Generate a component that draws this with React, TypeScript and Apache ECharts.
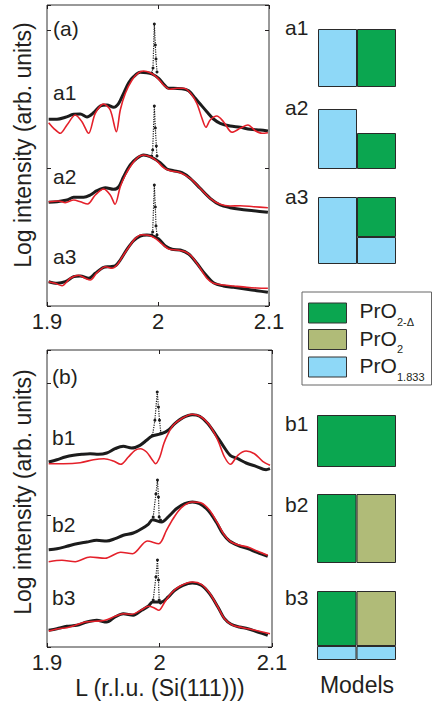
import React, { useEffect, useRef } from "react";
import * as echarts from "echarts";

const FONT = '"Liberation Sans", Arial, Helvetica, sans-serif';
const INK = "#231f20";
const BLACK = "#1c1c1c";
const RED = "#e4202a";
const GREEN = "#0ba650";
const OLIVE = "#b0bb78";
const BLUE = "#8ed8f7";

const xTickLabels = ["1.9", "2", "2.1"];

// ---- panel (a): [L, log intensity (arb.)]
const a1Black = [[1.9015,186.7],[1.909,186.7],[1.9165,188.7],[1.924,191.7],[1.93,192],[1.936,189],[1.942,193.3],[1.948,200],[1.954,201],[1.96,198.7],[1.9646,202.7],[1.969,212.7],[1.9736,223.3],[1.978,229.3],[1.984,233.7],[1.99,233.3],[1.9946,232],[2.0006,227.7],[2.005,222],[2.0096,217.7],[2.014,217.7],[2.0216,217.3],[2.0276,215.3],[2.0336,207.7],[2.038,202],[2.044,194.3],[2.05,187],[2.056,182.7],[2.065,180],[2.074,178.7],[2.083,176.7],[2.092,176],[2.099,175]];
const a1Red = [[1.9015,183.3],[1.906,177.7],[1.912,172.7],[1.918,181],[1.9255,191],[1.9315,184.3],[1.9375,172.7],[1.9435,192.7],[1.951,202],[1.957,196],[1.9625,174.3],[1.966,196],[1.9706,212.7],[1.9766,226],[1.9826,233.3],[1.987,235],[1.993,233.3],[1.999,228.7],[2.005,221],[2.011,216.7],[2.017,217.7],[2.023,217.7],[2.029,213.3],[2.035,202.7],[2.0396,187.7],[2.0432,178.7],[2.047,186],[2.053,190],[2.059,184.3],[2.0667,173.7],[2.074,177.7],[2.081,181],[2.0877,175.3],[2.0937,172.7],[2.099,173.3]];
const a1Spike = [[1.9943,233],[1.9955,238],[1.9967,282],[1.9976,261],[1.9982,247],[1.9991,234]];

const a2Black = [[1.9015,103.7],[1.909,104.3],[1.918,106],[1.924,108.7],[1.933,108.7],[1.939,111],[1.945,115.3],[1.9526,118.3],[1.96,116.7],[1.9646,119.3],[1.969,129.3],[1.975,141],[1.981,147.7],[1.987,151],[1.993,149.3],[2.002,143.3],[2.008,137],[2.014,135.3],[2.0216,133.3],[2.029,127.7],[2.038,117.7],[2.047,107.7],[2.056,101],[2.065,98.3],[2.074,96.7],[2.086,95.3],[2.099,93.7]];
const a2Red = [[1.9015,104.3],[1.9105,105],[1.9165,103.3],[1.924,106],[1.93,104.3],[1.9366,102],[1.9435,111],[1.951,117],[1.957,111],[1.9613,101.7],[1.966,119.3],[1.9706,131],[1.9766,142],[1.9826,149.3],[1.987,151],[1.993,149.3],[1.999,145],[2.005,138.3],[2.011,135.3],[2.02,133.3],[2.029,127.7],[2.038,117.7],[2.047,107.7],[2.056,101.7],[2.065,100],[2.074,100.3],[2.086,99.3],[2.099,98.3]];
const a2Spike = [[1.9943,150],[1.9952,156],[1.9967,200],[1.9976,178],[1.9985,160],[1.9991,150]];

const a3Black = [[1.9015,24.3],[1.909,22.7],[1.9165,24.3],[1.924,29.3],[1.93,30],[1.9375,27.7],[1.9435,32.7],[1.951,38.7],[1.957,39.3],[1.9616,40.3],[1.966,46],[1.972,56.7],[1.978,65.3],[1.984,70],[1.99,71],[1.9946,70.3],[2.0006,67],[2.0066,60],[2.0126,56.7],[2.02,56],[2.0276,52],[2.035,42.7],[2.0426,31.7],[2.05,23.3],[2.059,20],[2.068,18.7],[2.08,16.7],[2.089,15.3],[2.099,13.7]];
const a3Red = [[1.9015,24.3],[1.9075,22.7],[1.9135,20.3],[1.921,27.7],[1.9285,30.7],[1.9345,27.7],[1.939,26],[1.945,33.3],[1.9526,39.3],[1.9586,37.7],[1.963,41],[1.9676,48.7],[1.9736,58.7],[1.9796,67.7],[1.9856,71.3],[1.9916,70.7],[1.9976,67.7],[2.0036,62],[2.0096,57],[2.017,56],[2.0246,54.3],[2.0306,49.3],[2.038,37.7],[2.044,27.7],[2.05,22.7],[2.059,21],[2.068,20],[2.08,18.7],[2.089,18],[2.099,17.7]];
const a3Spike = [[1.9943,71],[1.9952,74],[1.9967,121],[1.9976,99],[1.9982,80],[1.9991,71]];

// ---- panel (b)
const b1Black = [[1.9015,185],[1.9088,187.3],[1.9162,190],[1.9236,191.7],[1.931,192.7],[1.9383,193.3],[1.9457,192.7],[1.9531,194],[1.9605,198.3],[1.9678,200.7],[1.9752,199],[1.9826,201.7],[1.9885,206.7],[1.9929,210.7],[2.0018,213.3],[2.0077,216.7],[2.0136,223.3],[2.0209,229.3],[2.0292,232.3],[2.0357,230.7],[2.0431,223.3],[2.0504,211.7],[2.0569,200.7],[2.0628,191.7],[2.0696,188.3],[2.077,184],[2.0858,180.7],[2.0947,177.3],[2.0982,178.3]];
const b1Red = [[1.9015,183.3],[1.9147,183.3],[1.9295,184.3],[1.9413,187.3],[1.9507,188.3],[1.959,186],[1.9655,182.7],[1.9723,190],[1.9782,196.7],[1.9832,198.3],[1.9885,195],[1.9929,188.3],[1.9965,183.3],[2.0003,190],[2.0038,203.3],[2.0077,213.3],[2.0121,221.7],[2.0195,228.3],[2.0292,232.7],[2.0372,230],[2.0445,221.7],[2.0519,206.7],[2.0578,190],[2.0631,182.7],[2.0696,191.7],[2.077,196],[2.0844,193.3],[2.0917,185.7],[2.0982,181.7]];
const b1Spike = [[1.9938,211.7],[1.9959,226.7],[1.998,255],[1.9991,240],[2.0,226.7],[2.0012,214]];

const b2Black = [[1.9015,97.3],[1.9088,98.3],[1.9177,100.7],[1.9265,103.3],[1.9354,105],[1.9442,106.7],[1.9531,106],[1.9605,108.3],[1.9678,111.7],[1.9767,114],[1.9841,118.3],[1.99,122.7],[1.9938,127.3],[2.0018,125],[2.0091,131.7],[2.015,138.3],[2.0224,143.3],[2.0292,145],[2.0357,143.3],[2.0431,136.7],[2.0504,125],[2.0563,113.3],[2.0622,106],[2.0696,101.7],[2.0785,98.3],[2.0873,94.3],[2.0962,90.7]];
const b2Red = [[1.9015,85.3],[1.9133,86.7],[1.9251,85.3],[1.9383,90],[1.9516,88.7],[1.9655,94.7],[1.9761,93.3],[1.9891,106],[1.9994,103.3],[2.0062,116.7],[2.0121,128.3],[2.0195,139.3],[2.0292,145],[2.0372,144],[2.0445,136.7],[2.0519,123.3],[2.0578,111.7],[2.0637,105],[2.0711,101.7],[2.0785,100],[2.0873,95.7],[2.0962,91.7]];
const b2Spike = [[1.9944,130],[1.9968,153],[1.9982,167],[1.9991,150],[1.9997,130],[2.0009,127]];

const b3Black = [[1.9015,16.7],[1.9088,18.3],[1.9177,20.7],[1.9265,21.7],[1.9354,25],[1.9442,26.7],[1.9531,25],[1.9605,30],[1.9678,33.3],[1.9767,31.7],[1.9841,36.7],[1.99,40.7],[1.9938,45],[2.0018,45],[2.0077,50],[2.0136,56.7],[2.0209,61.7],[2.0292,64],[2.0372,61.7],[2.0445,53.3],[2.0519,40],[2.0578,28.3],[2.0637,22.7],[2.0711,20],[2.0785,18.3],[2.0873,15],[2.0962,11.7]];
const b3Red = [[1.9015,16],[1.9103,18.3],[1.9177,19.3],[1.9251,21.7],[1.9339,25],[1.9428,25.7],[1.9516,26.7],[1.9605,30.7],[1.9678,33.3],[1.9752,32.7],[1.9841,37.3],[1.99,40.7],[1.995,39.3],[1.9994,36.7],[2.0047,45],[2.0106,54],[2.018,60.7],[2.0292,65],[2.0372,62.7],[2.0445,54],[2.0519,40],[2.0578,28.3],[2.0652,21.7],[2.0741,19.3],[2.0829,17.3],[2.0917,15],[2.0982,13.3]];
const b3Spike = [[1.9944,47],[1.9968,70],[1.9982,87],[1.9991,67],[1.9997,47],[2.0009,44]];

// ---- models: layer thickness per column (arb.)
const modelNames = ["a1", "a2", "a3", "b1", "b2", "b3"];
const layerPrO1833 = [[58, "-"], [60, "-"], [67, 27], ["-"], ["-", "-"], [14, 14]];
const layerPrO2D = [["-", 58], ["-", 36], ["-", 40], [52], [69, "-"], [55, "-"]];
const layerPrO2 = [["-", "-"], ["-", "-"], ["-", "-"], ["-"], ["-", 69], ["-", 55]];
const modelCols = [2, 2, 2, 1, 2, 2];

const legendNames = ["PrO", "PrO", "PrO"];
const legendSubs = ["2-\u0394", "2", "1.833"];
const legendColors = [GREEN, OLIVE, BLUE];

export default function App() {
  const ref = useRef<HTMLDivElement>(null);
  useEffect(() => {
    if (!ref.current) return;
    const chart = echarts.init(ref.current, undefined, { renderer: "svg" });

    const mainGrids = [
      { left: 47, top: 5, width: 222, height: 301 },
      { left: 47, top: 350, width: 225, height: 297 },
    ];
    const yData = [301, 297];
    const yTicks = [
      { min: 45, max: 346, interval: 138 },
      { min: 45.3, max: 342.3, interval: 132 },
    ];
    const modelGrid = [
      { left: 318, top: 17 },
      { left: 318, top: 99 },
      { left: 318, top: 194 },
      { left: 317, top: 397 },
      { left: 317, top: 493 },
      { left: 317, top: 590 },
    ];

    const grid: any[] = [];
    const xAxis: any[] = [];
    const yAxis: any[] = [];
    const series: any[] = [];

    const tickStyle = { show: true, inside: true, length: 4, lineStyle: { color: INK, width: 1 } };

    mainGrids.forEach((g, i) => {
      grid.push({ ...g, show: true, borderColor: "#333", borderWidth: 1, backgroundColor: "transparent" });
      ["bottom", "top"].forEach((pos) => {
        xAxis.push({
          type: "value", gridIndex: i, position: pos, min: 1.9, max: 2.1, interval: 0.1,
          axisLine: { show: false }, axisTick: tickStyle, splitLine: { show: false },
          axisLabel: pos === "bottom"
            ? { show: true, fontSize: 22, color: INK, fontFamily: FONT, margin: 4,
                formatter: (v: number) => xTickLabels[Math.round((v - 1.9) / 0.1)] }
            : { show: false },
        });
      });
      yAxis.push({ type: "value", gridIndex: i, min: 0, max: yData[i], show: false });
      ["left", "right"].forEach((pos) => {
        yAxis.push({
          type: "value", gridIndex: i, position: pos, ...yTicks[i],
          axisLine: { show: false }, axisTick: tickStyle, axisLabel: { show: false }, splitLine: { show: false },
        });
      });
    });

    const curves = [
      [a1Black, a1Red, a1Spike, 0],
      [a2Black, a2Red, a2Spike, 0],
      [a3Black, a3Red, a3Spike, 0],
      [b1Black, b1Red, b1Spike, 1],
      [b2Black, b2Red, b2Spike, 1],
      [b3Black, b3Red, b3Spike, 1],
    ] as any[];
    curves.forEach(([blk, red, spk, p]) => {
      const xi = p * 2;
      const yi = p * 3;
      series.push({
        type: "line", xAxisIndex: xi, yAxisIndex: yi, data: blk, showSymbol: false, symbol: "none",
        smooth: 0.3, lineStyle: { color: BLACK, width: 3 }, z: 2, silent: true,
      });
      series.push({
        type: "line", xAxisIndex: xi, yAxisIndex: yi, data: spk, symbol: "circle", symbolSize: 3,
        itemStyle: { color: BLACK }, lineStyle: { color: BLACK, width: 1.2, type: "dotted" }, z: 2, silent: true,
      });
      series.push({
        type: "line", xAxisIndex: xi, yAxisIndex: yi, data: red, showSymbol: false, symbol: "none",
        smooth: 0.3, lineStyle: { color: RED, width: 1.6 }, z: 3, silent: true,
      });
    });

    modelNames.forEach((m, k) => {
      const gi = 2 + k;
      const w = k < 3 ? 78 : 79;
      grid.push({ left: modelGrid[k].left, top: modelGrid[k].top, width: w, height: 70 });
      const cats = modelCols[k] === 2 ? ["1", "2"] : ["1"];
      xAxis.push({ type: "category", gridIndex: gi, data: cats, show: false });
      yAxis.push({ type: "value", gridIndex: gi, min: 0, max: 70, show: false });
      const xi = xAxis.length - 1;
      const yi = yAxis.length - 1;
      const layers = [
        ["PrO1.833", layerPrO1833[k], BLUE],
        ["PrO2-\u0394", layerPrO2D[k], GREEN],
        ["PrO2", layerPrO2[k], OLIVE],
      ] as any[];
      layers.forEach(([name, data, color]) => {
        series.push({
          type: "bar", name, xAxisIndex: xi, yAxisIndex: yi, stack: "m" + k, data,
          barWidth: "100%", barCategoryGap: "0%", barGap: "0%", silent: true,
          itemStyle: { color, borderColor: "#2a2a2a", borderWidth: 1 },
        });
      });
    });

    const txt = (text: string, x: number, y: number, fontSize: number, align = "left", rotation = 0) => ({
      type: "text", x, y, rotation, silent: true,
      style: {
        text, fontSize, fontFamily: FONT, fill: INK,
        textAlign: align, textVerticalAlign: "middle", align, verticalAlign: "middle",
      },
    });

    const graphic: any[] = [
      txt("(a)", 53, 28, 21),
      txt("a1", 53, 92, 21),
      txt("a2", 53, 176, 21),
      txt("a3", 53, 256, 21),
      txt("(b)", 52, 376, 21),
      txt("b1", 52, 437, 21),
      txt("b2", 52, 524, 21),
      txt("b3", 52, 597, 21),
      txt("a1", 285, 27, 21),
      txt("a2", 285, 107, 21),
      txt("a3", 285, 196, 21),
      txt("b1", 285, 423, 21),
      txt("b2", 285, 504, 21),
      txt("b3", 285, 597, 21),
      txt("Log intensity (arb. units)", 23, 145, 23, "center", Math.PI / 2),
      txt("Log intensity (arb. units)", 23, 492, 23, "center", Math.PI / 2),
      txt("L (r.l.u. (Si(111)))", 160, 688, 23, "center"),
      txt("Models", 357, 685, 23, "center"),
      {
        type: "rect", silent: true, shape: { x: 302, y: 292, width: 129.5, height: 93 },
        style: { fill: "#fff", stroke: "#666", lineWidth: 1 },
      },
    ];
    const rowTop = [303, 329.5, 357];
    const rowMid = [310.5, 338.3, 365];
    const subMid = [321.5, 348.5, 376.7];
    legendNames.forEach((n, i) => {
      graphic.push({
        type: "rect", silent: true, shape: { x: 308.5, y: rowTop[i], width: 38, height: 20 },
        style: { fill: legendColors[i], stroke: "#333", lineWidth: 1 },
      });
      graphic.push(txt(n, 359.5, rowMid[i], 21));
      graphic.push(txt(legendSubs[i], 397, subMid[i], 11));
    });

    chart.setOption({
      animation: false,
      backgroundColor: "#fff",
      grid, xAxis, yAxis, series, graphic,
    });
    return () => chart.dispose();
  }, []);

  return (
    <div
      ref={ref}
      style={{ position: "absolute", left: 0, top: 0, width: 432, height: 702, background: "#fff" }}
    />
  );
}
